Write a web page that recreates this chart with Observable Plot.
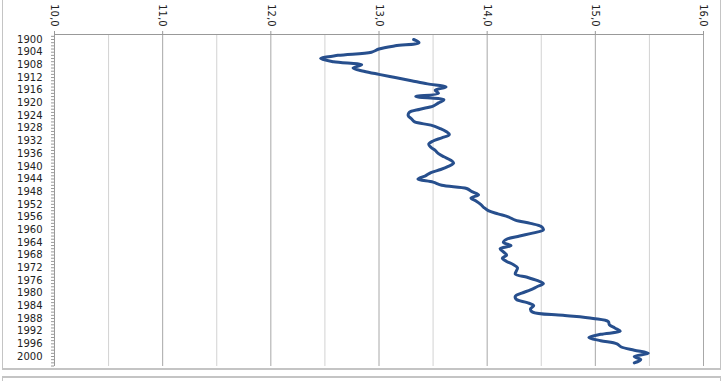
<!DOCTYPE html>
<html>
<head>
<meta charset="utf-8">
<script src="https://cdn.jsdelivr.net/npm/d3@7"></script>
<script src="https://cdn.jsdelivr.net/npm/@observablehq/plot@0.6"></script>
<style>
  html, body { margin: 0; padding: 0; background: #fff; }
  #wrap { position: relative; width: 726px; height: 381px; overflow: hidden; }
  #chart { position: absolute; left: 0; top: 0; }
  .frame1 { position: absolute; left: 2px; top: -4px; width: 719px; height: 374px; border: 1px solid #c4c4c4; border-bottom: 2px solid #c4c4c4; box-sizing: border-box; }
  .frame2 { position: absolute; left: 2px; top: 376px; width: 719px; height: 12px; border: 1px solid #c4c4c4; border-top: 2px solid #c4c4c4; box-sizing: border-box; }
</style>
</head>
<body>
<div id="wrap">
  <div class="frame1"></div>
  <div class="frame2"></div>
  <div id="chart"></div>
</div>
<script>
const years = d3.range(1900, 2003);
const values = [
  13.32, 13.37, 13.15, 13.00, 12.93, 12.62, 12.46, 12.58, 12.84, 12.76,
  12.86, 13.00, 13.15, 13.30, 13.45, 13.62, 13.52, 13.55, 13.34, 13.60,
  13.55, 13.50, 13.38, 13.28, 13.27, 13.30, 13.33, 13.48, 13.56, 13.62,
  13.65, 13.58, 13.50, 13.46, 13.48, 13.52, 13.55, 13.60, 13.66, 13.69,
  13.64, 13.57, 13.48, 13.43, 13.36, 13.50, 13.58, 13.81, 13.86, 13.92,
  13.85, 13.90, 13.94, 13.97, 14.01, 14.10, 14.20, 14.26, 14.40, 14.50,
  14.52, 14.43, 14.30, 14.18, 14.15, 14.22, 14.12, 14.15, 14.18, 14.14,
  14.18, 14.24, 14.28, 14.27, 14.26, 14.37, 14.46, 14.52, 14.46, 14.40,
  14.32, 14.26, 14.27, 14.37, 14.43, 14.40, 14.42, 14.70, 14.98, 15.12,
  15.13, 15.18, 15.23, 15.05, 14.94, 15.05, 15.20, 15.24, 15.36, 15.49,
  15.36, 15.42, 15.36
];
const xTicks = [10, 11, 12, 13, 14, 15, 16];
const xMinorGrid = [10.5, 11.5, 12.5, 13.5, 14.5, 15.5];
const yLabelTicks = d3.range(1900, 2001, 4);
const yMinorTicks = d3.range(1899, 2004);

const data = years.map((y, i) => ({year: y, value: values[i]}));
const yTop = 1898.42, yBottom = 2003.15;

const chart = Plot.plot({
  width: 726,
  height: 372,
  marginTop: 34,
  marginLeft: 54,
  marginRight: 23,
  marginBottom: 6,
  style: {fontFamily: "DejaVu Sans", fontSize: "10px", color: "#222", background: "transparent"},
  x: {domain: [10, 16]},
  y: {domain: [yTop, yBottom], reverse: true},
  marks: [
    Plot.gridX(xMinorGrid, {stroke: "#d2d2d2", strokeOpacity: 1}),
    Plot.gridX(xTicks, {stroke: "#a8a8a8", strokeOpacity: 1}),
    Plot.ruleY([yTop], {stroke: "#999"}),
    Plot.ruleX([10], {stroke: "#999"}),
    Plot.axisX(xTicks, {
      anchor: "top",
      tickSize: 4,
      tickRotate: 90,
      tickPadding: 4,
      tickFormat: d => d.toFixed(1).replace(".", ","),
      stroke: "#999",
      fill: "#222",
      label: null
    }),
    Plot.axisY(yMinorTicks, {anchor: "left", tickSize: 3, text: null, stroke: "#999", label: null}),
    Plot.axisY(yLabelTicks, {anchor: "left", tickSize: 0, tickPadding: 12, tickFormat: d => String(d), fill: "#222", label: null}),
    Plot.line(data, {x: "value", y: "year", stroke: "#274f8d", strokeWidth: 3, curve: "catmull-rom"})
  ]
});
document.getElementById("chart").appendChild(chart);
</script>
</body>
</html>
